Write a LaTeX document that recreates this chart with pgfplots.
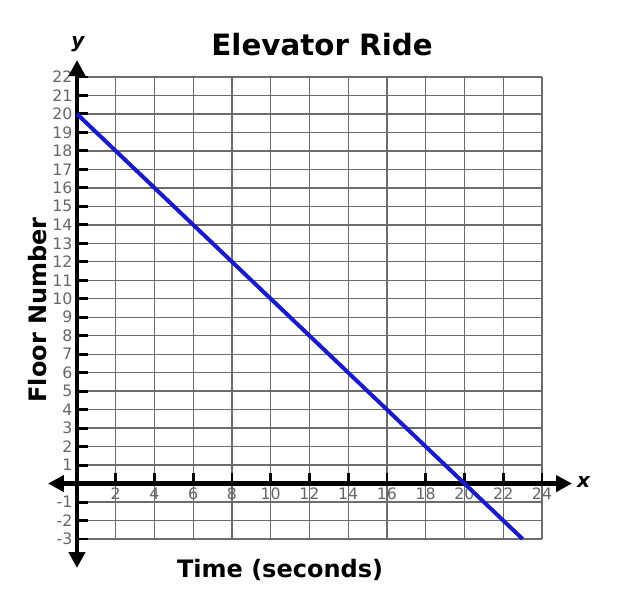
\documentclass[border=0pt]{standalone}
\usepackage{fontspec}
\setmainfont{DejaVu Sans}
\usepackage{pgfplots}
\pgfplotsset{compat=1.18}
\usetikzlibrary{arrows.meta}
\definecolor{rideblue}{RGB}{25,25,205}
\definecolor{gridgray}{RGB}{108,108,108}
\begin{document}
\begin{tikzpicture}
\path[use as bounding box] (-57.75pt,-54.75pt) rectangle (405.75pt,404.25pt);
\begin{axis}[
    at={(0,0)}, anchor=south west,
    scale only axis,
    width=348.75pt, height=346.5pt,
    xmin=0, xmax=24, ymin=-3, ymax=22,
    axis lines=middle,
    axis line style={draw=none},
    xtick={2,4,...,24},
    ytick={-3,-2,-1,1,2,...,22},
    grid=major,
    major grid style={gridgray, line width=1pt},
    tick align=inside,
    major tick length=8pt,
    tick style={black, line width=2.2pt},
    tick label style={font=\fontsize{11.8}{12}\selectfont, text=black!60},
    /pgf/number format/assume math mode=true,
    clip=false,
]
% axes with arrows at both ends
\draw[line width=3.5pt, {Triangle[length=12pt,width=12pt]}-{Triangle[length=12pt,width=12pt]}]
    (axis cs:-1.5,0) -- (axis cs:25.55,0);
\draw[line width=3.5pt, {Triangle[length=12pt,width=12pt]}-{Triangle[length=12pt,width=12pt]}]
    (axis cs:0,-4.57) -- (axis cs:0,22.92);

\addplot[rideblue, line width=3pt, mark=none] coordinates {(0,20) (23,-3)};

\node[font=\fontsize{22}{26}\selectfont\bfseries] at (axis cs:12.65,23.73) {Elevator Ride};
\node[font=\fontsize{18}{21}\selectfont\bfseries] at (axis cs:10.48,-4.68) {Time (seconds)};
\node[font=\fontsize{18}{21}\selectfont\bfseries, rotate=90] at (axis cs:-2.06,9.4) {Floor Number};
\node[font=\fontsize{15}{15}\selectfont\bfseries\itshape] at (axis cs:26.15,0.1) {x};
\node[font=\fontsize{15}{15}\selectfont\bfseries\itshape] at (axis cs:0.05,23.75) {y};
\end{axis}
\end{tikzpicture}
\end{document}
